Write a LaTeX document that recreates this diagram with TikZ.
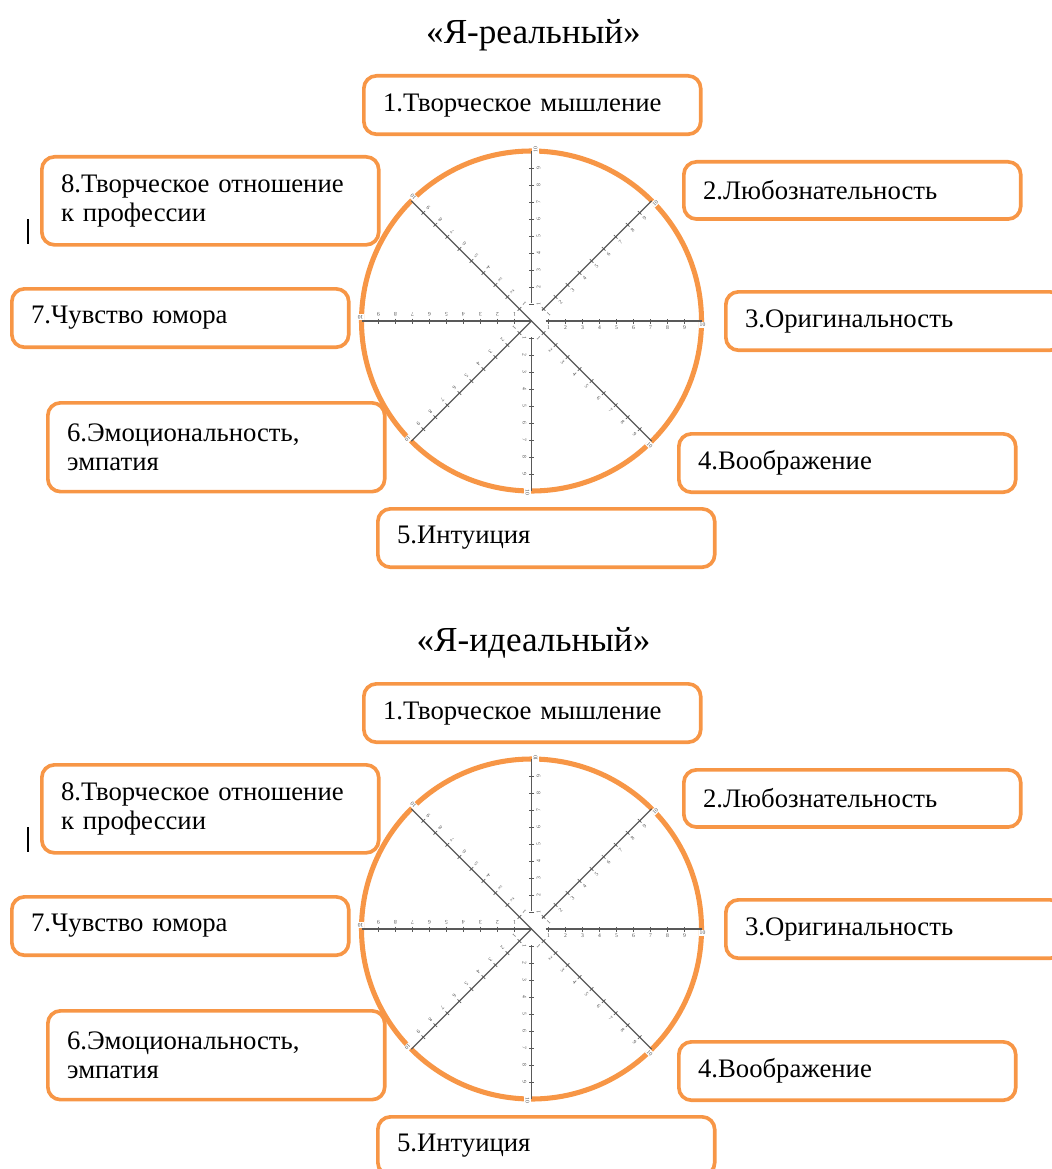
\documentclass[tikz,border=0pt]{standalone}
\usepackage{fontspec}
\setmainfont{Liberation Serif}
\definecolor{rimorange}{RGB}{247,150,70}
\tikzset{
  pill/.style={draw=rimorange, line width=2.6pt, rounded corners=9pt,
    anchor=north west, align=left, inner xsep=0.48cm, inner ysep=0pt,
    text width=7.46cm, minimum height=#1, font=\fontsize{19}{20.6}\selectfont},
  pill/.default=1.46cm,
  rim/.style={draw=rimorange, line width=3.6pt},
  spoke/.style={draw=black!65, line width=0.9pt},
  ticklabel/.style={font=\fontsize{4}{4}\selectfont, text=black!70, inner sep=0.8pt},
  headline/.style={font=\fontsize{25}{29}\selectfont},
}
\begin{document}
\begin{tikzpicture}[x=0.025cm, y=0.025cm]
        \useasboundingbox (0,0) rectangle (1051,-1169);
        \foreach \n/\dy/\head in {1/0/«Я-реальный», 2/608/«Я-идеальный»}{
        \begin{scope}[shift={(0,-\dy)}]
        \node[headline] (title\n) at (533.5,-35) {\head};
        % scale wheel
        \coordinate (c\n) at (531.5,-321);
        \begin{scope}[shift={(c\n)}]
        \draw[rim] (0,0) circle (170);
        \foreach \a/\s in {0/14,45/15,90/18,135/0,180/0,225/0,270/16,315/0}{
            \draw[spoke,rotate=\a] (\s,0) -- (170,0);
            \begin{scope}[rotate=\a]
            \foreach \k in {1,...,9}{
                \draw[spoke,line width=0.5pt] (\k*17,-2.5) -- (\k*17,2.5);
                \node[ticklabel,rotate=\a] at (\k*17,-7) {\k};
            }
            \node[ticklabel,rotate=\a,fill=white] at (171,-4) {10};
            \end{scope}
        }
        \end{scope}
        % qualities
        \node[pill] (b\n-1) at (362,-74) {1.Творческое мышление};
        \node[pill=2.2cm] (b\n-8) at (40,-155) {8.Творческое отношение\\к профессии};
        \node[pill=1.43cm] (b\n-2) at (682,-160) {2.Любознательность};
        \node[pill] (b\n-7) at (10,-287) {7.Чувство юмора};
        \node[pill] (b\n-3) at (724,-290) {3.Оригинальность};
        \node[pill=2.22cm] (b\n-6) at (46,-401) {6.Эмоциональность,\\эмпатия};
        \node[pill] (b\n-4) at (677,-432) {4.Воображение};
        \node[pill] (b\n-5) at (376,-507) {5.Интуиция};
        \draw[line width=1.5pt] (28,-219) -- (28,-244);
        \end{scope}
        }
\end{tikzpicture}
\end{document}
